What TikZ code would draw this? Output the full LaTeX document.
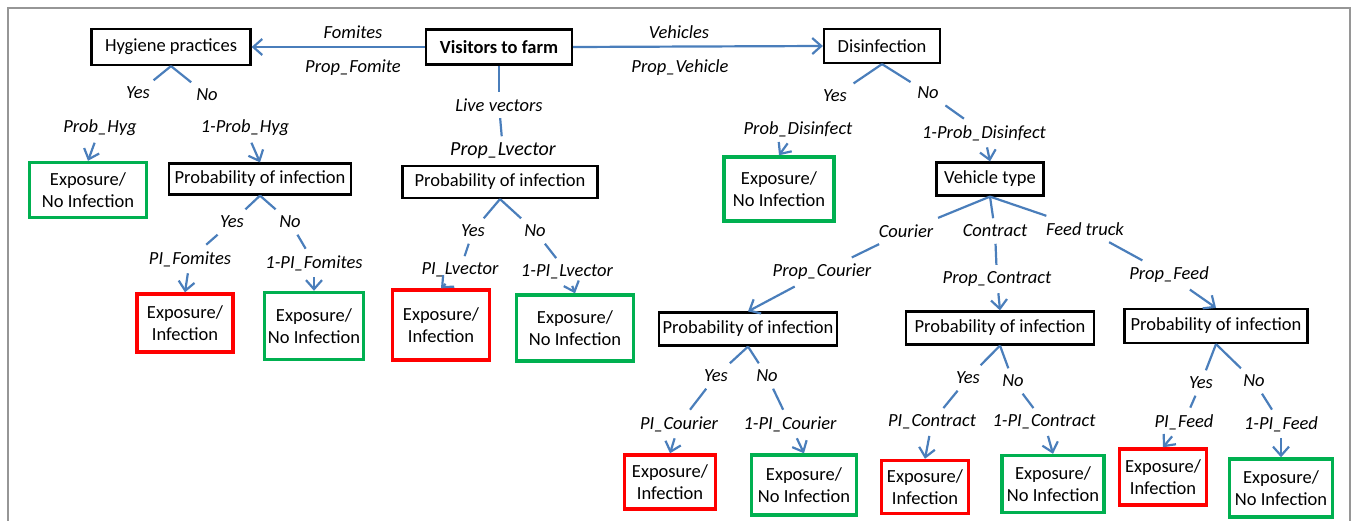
\documentclass[tikz,border=0pt]{standalone}
\usepackage{fontspec}
\setmainfont{Carlito}
\usetikzlibrary{arrows.meta}
\definecolor{lineblue}{RGB}{74,126,187}
\definecolor{okgreen}{RGB}{0,176,80}
\definecolor{badred}{RGB}{255,0,0}
\definecolor{framegray}{RGB}{150,150,150}
\tikzset{
  box/.style={draw=black, line width=2.2pt, inner sep=0pt, align=center,
    font=\fontsize{18.5}{21.5}\selectfont},
  gbox/.style={box, draw=okgreen, line width=3.4pt},
  rbox/.style={box, draw=badred, line width=3.4pt},
  lbl/.style={inner sep=6.5pt, font=\fontsize{18.5}{21}\selectfont\itshape},
  conn/.style={draw=lineblue, line width=2.2pt},
  arr/.style={conn, -{Straight Barb[length=9pt,width=16pt]}},
}
\begin{document}
\begin{tikzpicture}[x=1pt,y=-1pt]
\useasboundingbox (0,0) rectangle (1356,521);
\draw[framegray, line width=1.2pt] (8,521) -- (8,8) -- (1350,8) -- (1350,521);

% boxes
\node[box, minimum width=159, minimum height=36] (hyg) at (171,47) {Hygiene practices};
\node[box, minimum width=146, minimum height=35, font=\fontsize{18.5}{21.5}\selectfont\bfseries] (vis) at (499,47) {Visitors to farm};
\node[box, minimum width=116, minimum height=34] (dis) at (882,46) {Disinfection};
\node[gbox, minimum width=117, minimum height=55] (eHyg) at (88,190) {Exposure/\\No Infection};
\node[box, minimum width=182, minimum height=31] (pHyg) at (260,179) {Probability of infection};
\node[box, minimum width=195, minimum height=32] (pLv) at (500,182) {Probability of infection};
\node[gbox, minimum width=110, minimum height=64] (eDis) at (779,189) {Exposure/\\No Infection};
\node[box, minimum width=107, minimum height=33] (vt) at (990,179) {Vehicle type};
\node[rbox, minimum width=96, minimum height=58] (rFom) at (185,323) {Exposure/\\Infection};
\node[gbox, minimum width=99, minimum height=67] (gFom) at (314,326) {Exposure/\\No Infection};
\node[rbox, minimum width=97, minimum height=70] (rLv) at (441,325) {Exposure/\\Infection};
\node[gbox, minimum width=117, minimum height=66] (gLv) at (575,328) {Exposure/\\No Infection};
\node[box, minimum width=178, minimum height=33] (pCou) at (748,329) {Probability of infection};
\node[box, minimum width=188, minimum height=33] (pCon) at (1000,328) {Probability of infection};
\node[box, minimum width=183, minimum height=34] (pFd) at (1216,326) {Probability of infection};
\node[rbox, minimum width=91, minimum height=54] (rCou) at (670,482) {Exposure/\\Infection};
\node[gbox, minimum width=105, minimum height=60] (gCou) at (804,485) {Exposure/\\No Infection};
\node[rbox, minimum width=87, minimum height=53] (rCon) at (925,487) {Exposure/\\Infection};
\node[gbox, minimum width=102, minimum height=57] (gCon) at (1053,484) {Exposure/\\No Infection};
\node[rbox, minimum width=87, minimum height=56] (rFd) at (1163,477) {Exposure/\\Infection};
\node[gbox, minimum width=103, minimum height=58] (gFd) at (1281,488) {Exposure/\\No Infection};

% labels
\node[lbl] (lFom) at (353,32) {Fomites};
\node[lbl] (lPFom) at (353,68) {Prop\_Fomite};
\node[lbl] (lVeh) at (679,32) {Vehicles};
\node[lbl] (lPVeh) at (680,68) {Prop\_Vehicle};
\node[lbl] (hY) at (138,93) {Yes};
\node[lbl] (hN) at (207,95) {No};
\node[lbl] (hPY) at (100,128) {Prob\_Hyg};
\node[lbl] (hPN) at (245,128) {1-Prob\_Hyg};
\node[lbl] (fY) at (232,222) {Yes};
\node[lbl] (fN) at (290,222) {No};
\node[lbl] (fPY) at (190,259) {PI\_Fomites};
\node[lbl] (fPN) at (314,263) {1-PI\_Fomites};
\node[lbl] (lvL) at (499,105) {Live vectors};
\node[lbl, font=\fontsize{20}{22}\selectfont\itshape] (lvP) at (503,151) {Prop\_Lvector};
\node[lbl] (lvY) at (473,231) {Yes};
\node[lbl] (lvN) at (535,231) {No};
\node[lbl] (lvPY) at (460,270) {PI\_Lvector};
\node[lbl] (lvPN) at (567,272) {1-PI\_Lvector};
\node[lbl] (dY) at (835,96) {Yes};
\node[lbl] (dN) at (928,93) {No};
\node[lbl] (dPY) at (798,129) {Prob\_Disinfect};
\node[lbl] (dPN) at (984,133) {1-Prob\_Disinfect};
\node[lbl] (cou) at (906,231) {Courier};
\node[lbl] (con) at (995,231) {Contract};
\node[lbl] (fdt) at (1085,229) {Feed truck};
\node[lbl] (pcou) at (822,272) {Prop\_Courier};
\node[lbl] (pcon) at (997,279) {Prop\_Contract};
\node[lbl] (pfd) at (1169,275) {Prop\_Feed};
\node[lbl] (cY) at (716,376) {Yes};
\node[lbl] (cN) at (767,376) {No};
\node[lbl] (cPY) at (679,424) {PI\_Courier};
\node[lbl] (cPN) at (790,424) {1-PI\_Courier};
\node[lbl] (kY) at (968,378) {Yes};
\node[lbl] (kN) at (1013,381) {No};
\node[lbl] (kPY) at (932,422) {PI\_Contract};
\node[lbl] (kPN) at (1044,422) {1-PI\_Contract};
\node[lbl] (eY) at (1201,383) {Yes};
\node[lbl] (eN) at (1254,381) {No};
\node[lbl] (ePY) at (1184,422) {PI\_Feed};
\node[lbl] (ePN) at (1281,424) {1-PI\_Feed};

% top connectors
\draw[arr] (vis.west) -- (hyg.east);
\draw[arr] (vis.east) -- (dis.west);
\draw[conn] (vis.south) -- (lvL);
\draw[conn] (lvL) -- (lvP);

% hygiene
\draw[conn] (hyg.south) -- (hY);
\draw[conn] (hyg.south) -- (hN);
\draw[arr] (hPY) -- (eHyg.north);
\draw[arr] (hPN) -- (pHyg.north);

% fomites
\draw[conn] (pHyg.south) -- (fY);
\draw[conn] (fY) -- (fPY);
\draw[arr] (fPY) -- (rFom.north);
\draw[conn] (pHyg.south) -- (fN);
\draw[conn] (fN) -- (fPN);
\draw[arr] (fPN) -- (gFom.north);

% live vectors
\draw[conn] (pLv.south) -- (lvY);
\draw[conn] (lvY) -- (lvPY);
\draw[arr] (lvPY) -- (rLv.north);
\draw[conn] (pLv.south) -- (lvN);
\draw[conn] (lvN) -- (lvPN);
\draw[arr] (lvPN) -- (gLv.north);

% disinfection
\draw[conn] (dis.south) -- (dY);
\draw[arr] (dPY) -- (eDis.north);
\draw[conn] (dis.south) -- (dN);
\draw[conn] (dN) -- (dPN);
\draw[arr] (dPN) -- (vt.north);

% vehicle type
\draw[conn] (vt.south) -- (cou);
\draw[conn] (cou) -- (pcou);
\draw[arr] (pcou) -- (pCou.north);
\draw[conn] (vt.south) -- (con);
\draw[conn] (con) -- (pcon);
\draw[arr] (pcon) -- (pCon.north);
\draw[conn] (vt.south) -- (fdt);
\draw[conn] (fdt) -- (pfd);
\draw[arr] (pfd) -- (pFd.north);

% courier
\draw[conn] (pCou.south) -- (cY);
\draw[conn] (cY) -- (cPY);
\draw[arr] (cPY) -- (rCou.north);
\draw[conn] (pCou.south) -- (cN);
\draw[conn] (cN) -- (cPN);
\draw[arr] (cPN) -- (gCou.north);

% contract
\draw[conn] (pCon.south) -- (kY);
\draw[conn] (kY) -- (kPY);
\draw[arr] (kPY) -- (rCon.north);
\draw[conn] (pCon.south) -- (kN);
\draw[conn] (kN) -- (kPN);
\draw[arr] (kPN) -- (gCon.north);

% feed
\draw[conn] (pFd.south) -- (eY);
\draw[conn] (eY) -- (ePY);
\draw[arr] (ePY) -- (rFd.north);
\draw[conn] (pFd.south) -- (eN);
\draw[conn] (eN) -- (ePN);
\draw[arr] (ePN) -- (gFd.north);
\end{tikzpicture}
\end{document}
